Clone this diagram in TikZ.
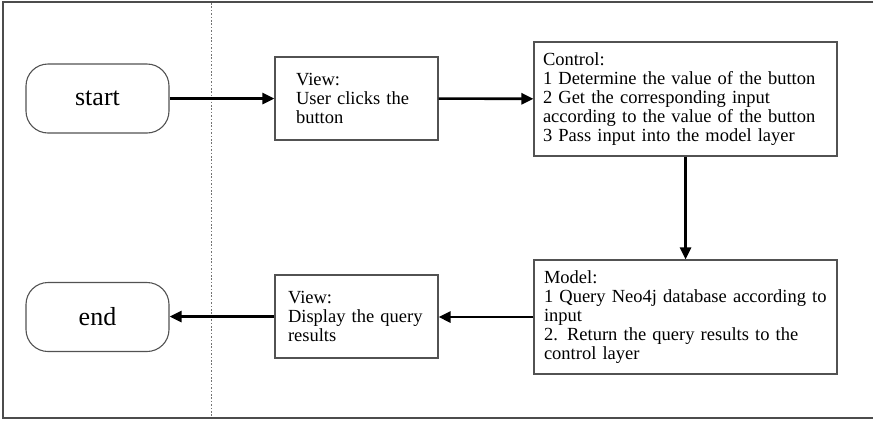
\documentclass[tikz,border=0pt]{standalone}
\usepackage{fontspec}
\setmainfont{Liberation Serif}
\usetikzlibrary{arrows.meta}
\begin{document}
\begin{tikzpicture}[x=1pt,y=-1pt,
  boxline/.style={draw=black!68,line width=1.1pt},
  term/.style={boxline,rounded corners=22pt,minimum width=143pt,minimum height=69pt,inner sep=0pt,
     font=\fontsize{26}{28}\selectfont},
  stepbox/.style={boxline,rectangle,inner ysep=0pt,align=left,
     font=\fontsize{18.5}{19.2}\selectfont},
  flow/.style={line width=2.6pt,-{Triangle[length=12pt,width=11pt]}},
  frame/.style={draw=black!70,line width=1.4pt}]
\useasboundingbox (0,0) rectangle (874,421);
\coordinate (ftr) at (873,2);
\coordinate (ftl) at (3,2);
\coordinate (fbl) at (3,418);
\coordinate (fbr) at (873,418);
\draw[frame] (ftr) -- (ftl) -- (fbl) -- (fbr);
\coordinate (dtop) at (211.5,3);
\coordinate (dbot) at (211.5,417);
\draw[black!55,line width=1.8pt,dash pattern=on 1.6pt off 1.8pt] (dtop) -- (dbot);

\node[term] (start) at (97.5,98.5) {start};
\node[term] (end) at (97.5,317) {end};
\node[stepbox,inner xsep=21pt,text width=121pt,minimum height=83pt] (v1) at (356.5,98.5)
  {View:\\User clicks the\\button};
\node[stepbox,inner xsep=9pt,text width=285pt,minimum height=114pt] (ctrl) at (685.5,99)
  {Control:\\1 Determine the value of the button\\2 Get the corresponding input\\according to the value of the button\\3 Pass input into the model layer};
\node[stepbox,inner xsep=10pt,text width=283pt,minimum height=114pt] (model) at (685.5,317)
  {Model:\\1 Query Neo4j database according to\\input\\2. Return the query results to the\\control layer};
\node[stepbox,inner xsep=13pt,text width=137pt,minimum height=83pt] (v2) at (356.5,316.5)
  {View:\\Display the query\\results};

\draw[flow] (start) -- (v1);
\draw[flow] (v1) -- (ctrl);
\draw[flow] (ctrl) -- (model);
\draw[flow] (model.west) -- (v2.east |- model.west);
\draw[flow] (v2.west) -- (end.east |- v2.west);
\end{tikzpicture}
\end{document}
